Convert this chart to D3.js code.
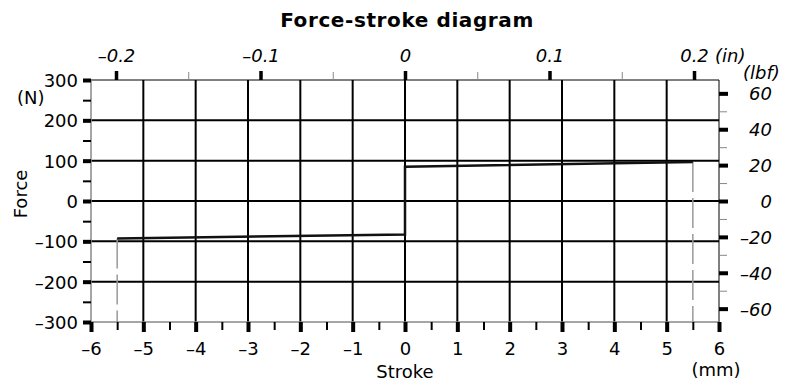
<!DOCTYPE html>
<html>
<head>
<meta charset="utf-8">
<script src="https://cdn.jsdelivr.net/npm/d3@7"></script>
<style>
  body { margin: 0; background: #fff; }
  svg { display: block; }
  text { font-family: "DejaVu Sans", sans-serif; fill: #000; }
</style>
</head>
<body>
<svg id="chart" width="795" height="383"></svg>
<script>
// Force-stroke curve (stroke in mm, force in N)
const strokeMm = [-5.5, 0, 0, 5.5];
const forceN = [-93, -83, 85, 97];
const strokeLimits = [-5.5, 5.5];

// Primary axes (metric)
const strokeTicks = [-6, -5, -4, -3, -2, -1, 0, 1, 2, 3, 4, 5, 6];
const strokeMinorTicks = [-5.5, -4.5, -3.5, -2.5, -1.5, -0.5, 0.5, 1.5, 2.5, 3.5, 4.5, 5.5];
const forceTicks = [-300, -200, -100, 0, 100, 200, 300];
const forceMinorTicks = [-250, -150, -50, 50, 150, 250];
const strokeGrid = [-5, -4, -3, -2, -1, 0, 1, 2, 3, 4, 5];
const forceGrid = [-200, -100, 0, 100, 200];

// Secondary axes (imperial)
const inchTicks = [-0.2, -0.1, 0, 0.1, 0.2];
const inchMinorTicks = [-0.15, -0.05, 0.05, 0.15];
const lbfTicks = [-60, -40, -20, 0, 20, 40, 60];
const lbfMinorTicks = [-50, -30, -10, 10, 30, 50];
const inchSpan = 0.2173;
const lbfSpan = 300 / 4.448;

const svg = d3.select("#chart");
const W = 795, H = 383;
const m = { top: 80, right: 76, bottom: 61, left: 91 };
const pw = W - m.left - m.right, ph = H - m.top - m.bottom;

const x = d3.scaleLinear().domain([-6, 6]).range([0, pw]);
const y = d3.scaleLinear().domain([-300, 300]).range([ph, 0]);
const xIn = d3.scaleLinear().domain([-inchSpan, inchSpan]).range([0, pw]);
const yLbf = d3.scaleLinear().domain([-lbfSpan, lbfSpan]).range([ph, 0]);

const dashFmt = d => (d < 0 ? "\u2013" + String(-d) : String(d));

// Title
svg.append("text")
  .attr("x", 407).attr("y", 27)
  .attr("text-anchor", "middle")
  .style("font-weight", "bold").style("font-size", "20px")
  .style("letter-spacing", "0.6px")
  .text("Force-stroke diagram");

const g = svg.append("g").attr("transform", `translate(${m.left},${m.top})`);

// Grid
g.append("g").selectAll("line").data(strokeGrid).join("line")
  .attr("x1", d => x(d)).attr("x2", d => x(d))
  .attr("y1", 0).attr("y2", ph)
  .attr("stroke", "#000").attr("stroke-width", 2);
g.append("g").selectAll("line").data(forceGrid).join("line")
  .attr("x1", 0).attr("x2", pw)
  .attr("y1", d => y(d)).attr("y2", d => y(d))
  .attr("stroke", "#000").attr("stroke-width", 2);

// Frame
g.append("line").attr("x1", 0).attr("x2", pw).attr("y1", 0).attr("y2", 0)
  .attr("stroke", "#000").attr("stroke-width", 1);
g.append("line").attr("x1", pw).attr("x2", pw).attr("y1", 0).attr("y2", ph)
  .attr("stroke", "#000").attr("stroke-width", 1);
g.append("line").attr("x1", 0).attr("x2", 0).attr("y1", 0).attr("y2", ph)
  .attr("stroke", "#888").attr("stroke-width", 1.5);
g.append("line").attr("x1", 0).attr("x2", pw).attr("y1", ph).attr("y2", ph)
  .attr("stroke", "#888").attr("stroke-width", 1.5);

// Stroke-end markers
g.append("g").selectAll("line").data(strokeLimits).join("line")
  .attr("x1", d => x(d)).attr("x2", d => x(d))
  .attr("y1", d => y(forceN[strokeMm.indexOf(d)])).attr("y2", ph)
  .attr("stroke", "#999").attr("stroke-width", 1.5)
  .attr("stroke-dasharray", "30,6");

// Curve
const pts = strokeMm.map((s, i) => [s, forceN[i]]);
g.append("path")
  .datum(pts)
  .attr("fill", "none")
  .attr("stroke", "#111").attr("stroke-width", 2.5)
  .attr("d", d3.line().x(d => x(d[0])).y(d => y(d[1])));

function styleAxis(sel, width, color) {
  sel.select(".domain").remove();
  sel.selectAll(".tick line").attr("stroke", color).attr("stroke-width", width);
}

// Bottom axis (mm)
g.append("g").attr("transform", `translate(0,${ph})`)
  .call(d3.axisBottom(x).tickValues(strokeMinorTicks).tickSize(8).tickFormat(""))
  .call(s => styleAxis(s, 2, "#000"));
const bx = g.append("g").attr("transform", `translate(0,${ph})`)
  .call(d3.axisBottom(x).tickValues(strokeTicks).tickSize(10).tickFormat(dashFmt))
  .call(s => styleAxis(s, 4, "#000"));
bx.selectAll("text").attr("y", 33).attr("dy", 0).style("font-size", "18px").attr("fill", "#000");

// Left axis (N)
g.append("g")
  .call(d3.axisLeft(y).tickValues(forceMinorTicks).tickSize(8).tickFormat(""))
  .call(s => styleAxis(s, 2, "#000"));
const ly = g.append("g")
  .call(d3.axisLeft(y).tickValues(forceTicks).tickSize(8).tickPadding(5).tickFormat(dashFmt))
  .call(s => styleAxis(s, 4, "#000"));
ly.selectAll("text").attr("dy", "0.36em").style("font-size", "18px").attr("fill", "#000");

// Top axis (in)
g.append("g")
  .call(d3.axisTop(xIn).tickValues(inchMinorTicks).tickSize(8).tickFormat(""))
  .call(s => styleAxis(s, 1, "#888"));
const tx = g.append("g")
  .call(d3.axisTop(xIn).tickValues(inchTicks).tickSize(9).tickFormat(d => dashFmt(d).replace(/^(\u2013?)0$/, "0")))
  .call(s => styleAxis(s, 3.5, "#000"));
tx.selectAll("text").attr("y", -18).attr("dy", 0)
  .style("font-size", "18px").style("font-style", "italic").attr("fill", "#000");

// Right axis (lbf)
g.append("g").attr("transform", `translate(${pw},0)`)
  .call(d3.axisRight(yLbf).tickValues(lbfMinorTicks).tickSize(8).tickFormat(""))
  .call(s => styleAxis(s, 1, "#888"));
const ry = g.append("g").attr("transform", `translate(${pw},0)`)
  .call(d3.axisRight(yLbf).tickValues(lbfTicks).tickSize(9).tickFormat(dashFmt))
  .call(s => styleAxis(s, 4, "#000"));
ry.selectAll("text").attr("x", 53).attr("text-anchor", "end").attr("dy", "0.36em")
  .style("font-size", "18px").style("font-style", "italic").attr("fill", "#000");

// Axis titles and units
svg.append("text").attr("x", 405).attr("y", 378).attr("text-anchor", "middle")
  .style("font-size", "18px").text("Stroke");
svg.append("text").attr("x", 716).attr("y", 376).attr("text-anchor", "middle")
  .style("font-size", "18px").text("(mm)");
svg.append("text").attr("transform", "translate(27,194) rotate(-90)").attr("text-anchor", "middle")
  .style("font-size", "18px").text("Force");
svg.append("text").attr("x", 17).attr("y", 104)
  .style("font-size", "18px").text("(N)");
svg.append("text").attr("x", 715).attr("y", 62)
  .style("font-size", "18px").style("font-style", "italic").text("(in)");
svg.append("text").attr("x", 743).attr("y", 79)
  .style("font-size", "18px").style("font-style", "italic").text("(lbf)");
</script>
</body>
</html>
